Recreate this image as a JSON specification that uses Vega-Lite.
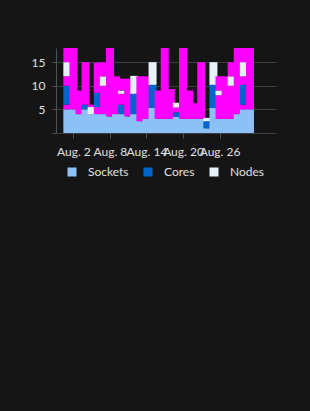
{
  "$schema": "https://vega.github.io/schema/vega-lite/v6.json",
  "autosize": {"type": "none"},
  "width": 220,
  "height": 85,
  "padding": {"left": 56, "top": 48, "right": 34, "bottom": 278},
  "background": "#151515",
  "config": {
    "view": {"stroke": null},
    "font": "Lato",
    "axis": {"labelFont": "Lato", "labelFontSize": 12, "labelColor": "#e0e0e0", "gridColor": "#3c3f42", "tickColor": "#4f5255", "domainColor": "#4f5255", "title": null},
    "legend": {"labelFont": "Lato", "labelFontSize": 12, "labelColor": "#e0e0e0"}
  },
  "data": {"values": [
    {"d":"2023-08-01","k":"Sockets","v":5,"o":1},{"d":"2023-08-01","k":"Other","v":1,"o":2},{"d":"2023-08-01","k":"Cores","v":4,"o":3},{"d":"2023-08-01","k":"Other","v":2,"o":4},{"d":"2023-08-01","k":"Nodes","v":3,"o":5},{"d":"2023-08-01","k":"Other","v":3,"o":6},
    {"d":"2023-08-02","k":"Sockets","v":5,"o":1},{"d":"2023-08-02","k":"Other","v":13,"o":2},
    {"d":"2023-08-03","k":"Sockets","v":4,"o":1},{"d":"2023-08-03","k":"Other","v":5,"o":2},
    {"d":"2023-08-04","k":"Sockets","v":5,"o":1},{"d":"2023-08-04","k":"Cores","v":1,"o":2},{"d":"2023-08-04","k":"Other","v":9,"o":3},
    {"d":"2023-08-05","k":"Sockets","v":4,"o":1},{"d":"2023-08-05","k":"Nodes","v":1.5,"o":2},{"d":"2023-08-05","k":"Other","v":0.5,"o":3},
    {"d":"2023-08-06","k":"Sockets","v":4,"o":1},{"d":"2023-08-06","k":"Other","v":1.5,"o":2},{"d":"2023-08-06","k":"Cores","v":3,"o":3},{"d":"2023-08-06","k":"Other","v":6.4,"o":4},
    {"d":"2023-08-07","k":"Sockets","v":4,"o":1},{"d":"2023-08-07","k":"Other","v":6,"o":2},{"d":"2023-08-07","k":"Nodes","v":2,"o":3},{"d":"2023-08-07","k":"Other","v":3,"o":4},
    {"d":"2023-08-08","k":"Sockets","v":3.5,"o":1},{"d":"2023-08-08","k":"Other","v":14.5,"o":2},
    {"d":"2023-08-09","k":"Sockets","v":4,"o":1},{"d":"2023-08-09","k":"Other","v":8,"o":2},
    {"d":"2023-08-10","k":"Sockets","v":4,"o":1},{"d":"2023-08-10","k":"Cores","v":2,"o":2},{"d":"2023-08-10","k":"Other","v":2.3,"o":3},{"d":"2023-08-10","k":"Nodes","v":0.7,"o":4},{"d":"2023-08-10","k":"Other","v":2.5,"o":5},
    {"d":"2023-08-11","k":"Sockets","v":3.5,"o":1},{"d":"2023-08-11","k":"Other","v":8,"o":2},
    {"d":"2023-08-12","k":"Sockets","v":4,"o":1},{"d":"2023-08-12","k":"Cores","v":4.3,"o":2},{"d":"2023-08-12","k":"Nodes","v":3.8,"o":3},
    {"d":"2023-08-13","k":"Sockets","v":2.5,"o":1},{"d":"2023-08-13","k":"Other","v":9.5,"o":2},
    {"d":"2023-08-14","k":"Sockets","v":3,"o":1},{"d":"2023-08-14","k":"Other","v":9,"o":2},
    {"d":"2023-08-15","k":"Sockets","v":5.3,"o":1},{"d":"2023-08-15","k":"Cores","v":4.9,"o":2},{"d":"2023-08-15","k":"Nodes","v":4.8,"o":3},
    {"d":"2023-08-16","k":"Sockets","v":3,"o":1},{"d":"2023-08-16","k":"Other","v":6,"o":2},
    {"d":"2023-08-17","k":"Sockets","v":3,"o":1},{"d":"2023-08-17","k":"Other","v":15,"o":2},
    {"d":"2023-08-18","k":"Sockets","v":3,"o":1},{"d":"2023-08-18","k":"Other","v":6.3,"o":2},
    {"d":"2023-08-19","k":"Sockets","v":3.4,"o":1},{"d":"2023-08-19","k":"Cores","v":1,"o":2},{"d":"2023-08-19","k":"Other","v":1,"o":3},{"d":"2023-08-19","k":"Nodes","v":1,"o":4},
    {"d":"2023-08-20","k":"Sockets","v":3,"o":1},{"d":"2023-08-20","k":"Other","v":15,"o":2},
    {"d":"2023-08-21","k":"Sockets","v":3,"o":1},{"d":"2023-08-21","k":"Other","v":6,"o":2},
    {"d":"2023-08-22","k":"Sockets","v":3,"o":1},{"d":"2023-08-22","k":"Other","v":3.3,"o":2},
    {"d":"2023-08-23","k":"Sockets","v":3,"o":1},{"d":"2023-08-23","k":"Other","v":12,"o":2},
    {"d":"2023-08-24","k":"Sockets","v":1,"o":1},{"d":"2023-08-24","k":"Cores","v":1.5,"o":2},{"d":"2023-08-24","k":"Nodes","v":0.7,"o":3},
    {"d":"2023-08-25","k":"Sockets","v":5.3,"o":1},{"d":"2023-08-25","k":"Cores","v":4.9,"o":2},{"d":"2023-08-25","k":"Nodes","v":4.8,"o":3},
    {"d":"2023-08-26","k":"Sockets","v":3,"o":1},{"d":"2023-08-26","k":"Other","v":5,"o":2},{"d":"2023-08-26","k":"Nodes","v":1,"o":3},{"d":"2023-08-26","k":"Other","v":3,"o":4},
    {"d":"2023-08-27","k":"Sockets","v":3,"o":1},{"d":"2023-08-27","k":"Other","v":9,"o":2},
    {"d":"2023-08-28","k":"Sockets","v":3,"o":1},{"d":"2023-08-28","k":"Other","v":7,"o":2},{"d":"2023-08-28","k":"Nodes","v":2,"o":3},{"d":"2023-08-28","k":"Other","v":3,"o":4},
    {"d":"2023-08-29","k":"Sockets","v":4,"o":1},{"d":"2023-08-29","k":"Other","v":14,"o":2},
    {"d":"2023-08-30","k":"Sockets","v":5,"o":1},{"d":"2023-08-30","k":"Other","v":1,"o":2},{"d":"2023-08-30","k":"Cores","v":4.2,"o":3},{"d":"2023-08-30","k":"Other","v":1.8,"o":4},{"d":"2023-08-30","k":"Nodes","v":3,"o":5},{"d":"2023-08-30","k":"Other","v":3,"o":6},
    {"d":"2023-08-31","k":"Sockets","v":5,"o":1},{"d":"2023-08-31","k":"Other","v":13,"o":2}
  ]},
  "mark": {"type": "bar", "width": 8},
  "encoding": {
    "x": {
      "field": "d", "type": "temporal",
      "scale": {"type": "utc", "domain": [{"year": 2023, "month": 7, "date": 30, "hours": 23, "utc": true}, {"year": 2023, "month": 9, "date": 3, "hours": 11, "utc": true}]},
      "axis": {
        "values": [{"year": 2023, "month": 8, "date": 2, "utc": true}, {"year": 2023, "month": 8, "date": 8, "utc": true}, {"year": 2023, "month": 8, "date": 14, "utc": true}, {"year": 2023, "month": 8, "date": 20, "utc": true}, {"year": 2023, "month": 8, "date": 26, "utc": true}],
        "labelExpr": "utcFormat(datum.value, '%b. %-d')",
        "grid": false, "domain": false, "tickSize": 5, "labelPadding": 8, "labelOverlap": false, "labelFlush": false
      }
    },
    "y": {
      "field": "v", "type": "quantitative", "stack": "zero",
      "scale": {"domain": [0, 18], "nice": false},
      "axis": {"values": [0, 5, 10, 15], "labelExpr": "datum.value == 0 ? '' : datum.label", "tickSize": 4, "labelPadding": 7, "domain": true}
    },
    "color": {
      "field": "k", "type": "nominal",
      "scale": {"domain": ["Sockets", "Cores", "Nodes", "Other"], "range": ["#8bc1f7", "#0066cc", "#e7f1fa", "#ff00ff"]},
      "legend": {"values": ["Sockets", "Cores", "Nodes"], "title": null, "orient": "none", "direction": "horizontal", "legendX": 10, "legendY": 118, "symbolType": "square", "symbolSize": 81, "labelOffset": 10, "columnPadding": 13, "symbolStrokeWidth": 0}
    },
    "order": {"field": "o", "type": "quantitative"}
  }
}
